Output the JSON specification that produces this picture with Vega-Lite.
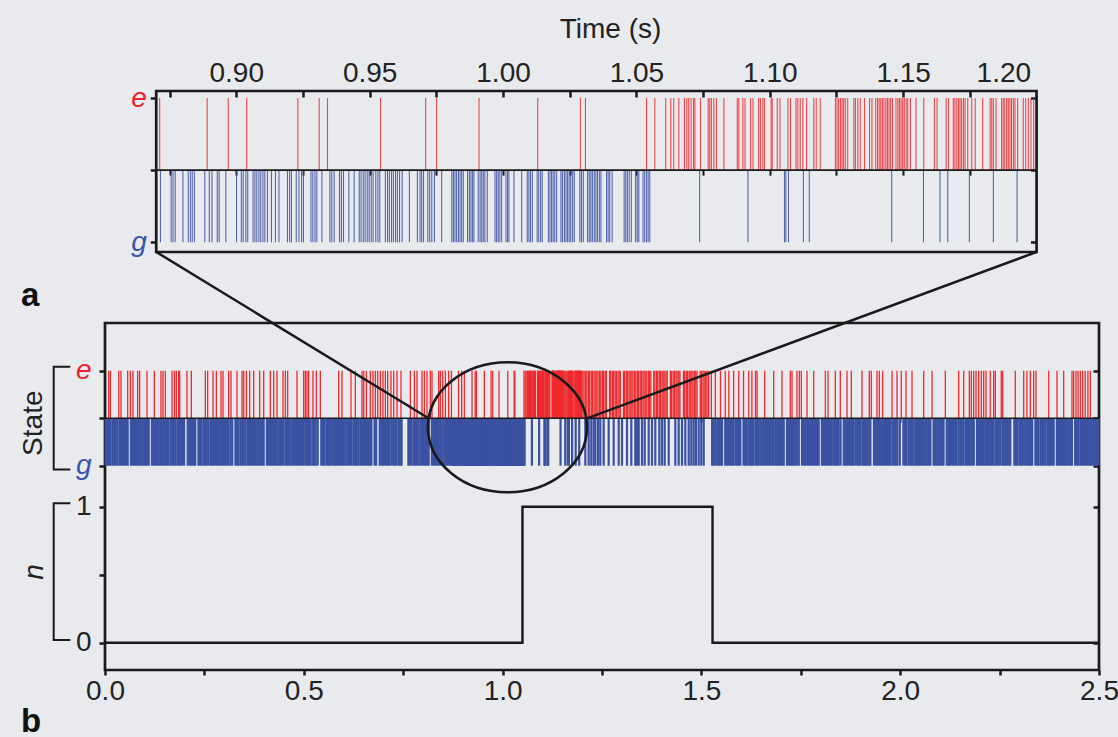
{
  "$schema": "https://vega.github.io/schema/vega-lite/v6.json",
  "background": "#e9eaee",
  "padding": {"left": 18, "top": 15, "right": 4, "bottom": 4},
  "autosize": {"type": "pad"},
  "config": {
    "view": {"stroke": null},
    "font": "Liberation Sans",
    "axis": {"labelFont": "Liberation Sans", "titleFont": "Liberation Sans", "labelFontSize": 28, "titleFontSize": 28, "labelColor": "#222222", "titleColor": "#222222", "tickColor": "#1a1a1a", "domainColor": "#1a1a1a", "labelFlush": false, "labelOverlap": false, "grid": false, "titleFontWeight": "normal"},
    "text": {"font": "Liberation Sans"}
  },
  "datasets": {
    "step": [{"t": 0, "n": 0}, {"t": 1.05, "n": 1}, {"t": 1.528, "n": 0}, {"t": 2.5, "n": 0}],
    "e": [0.0092,0.0134,0.0344,0.0402,0.057,0.0637,0.0704,0.0822,0.0872,0.1056,0.1241,0.1408,0.1459,0.1517,0.1685,0.1744,0.1794,0.1853,0.1878,0.2062,0.2171,0.2523,0.2582,0.2716,0.28,0.2918,0.2968,0.311,0.3169,0.332,0.3446,0.3488,0.3555,0.3639,0.3739,0.389,0.3991,0.4158,0.4242,0.4326,0.4477,0.4536,0.4594,0.4829,0.4997,0.5039,0.508,0.5122,0.5231,0.5315,0.5416,0.5877,0.5961,0.6187,0.6296,0.6464,0.6506,0.6573,0.6673,0.674,0.6799,0.6858,0.6925,0.6992,0.7051,0.7109,0.7193,0.726,0.7344,0.7445,0.768,0.778,0.7847,0.7973,0.8032,0.8099,0.8182,0.8224,0.8392,0.8434,0.8494,0.8561,0.8644,
      0.8713,0.8891,0.897,0.9039,0.9231,0.9311,0.9342,0.9541,0.971,0.9751,0.991,1.013,1.029,1.0309,1.0538,1.0569,1.061,1.0629,1.064,1.0659,1.068,1.0689,1.0696,1.0705,1.0714,1.0719,1.074,1.0769,1.0775,1.0781,1.079,1.08,1.0828,1.0878,1.0884,1.0899,1.0907,1.0928,1.0937,1.0958,1.0965,1.0974,1.098,1.1005,1.1009,1.1028,1.1038,1.1068,1.1078,1.1098,1.1105,1.1114,1.1124,1.1138,1.1165,1.1174,1.1189,1.1246,1.1252,1.1258,1.1265,1.1271,1.1277,1.1283,1.1292,1.1315,1.1321,1.133,1.1339,1.1355,1.1374,1.1383,1.1397,1.1404,1.141,1.1416,1.1422,1.1428,1.1435,1.1441,1.1447,1.1453,1.146,1.1473,1.148,1.1486,1.1492,1.1498,1.1504,1.1511,1.1517,1.1527,1.1548,1.1577,1.1617,1.1627,1.1661,1.167,1.1688,1.1694,1.1701,1.1707,1.1713,1.1719,1.1726,1.1732,1.1742,1.1757,1.177,1.1798,1.1826,1.1832,1.1838,1.1848,1.1869,1.1875,1.1881,1.1888,1.1894,1.19,1.1906,1.1913,1.1919,1.1929,1.195,1.1959,1.1969,1.1979,1.1989,
      1.202,1.205,1.209,1.212,1.216,1.219,1.223,1.226,1.23,1.233,1.237,1.24,1.244,1.247,1.251,1.254,1.258,1.261,1.269,1.272,1.276,1.279,1.283,1.286,1.29,1.293,1.296,1.304,1.307,1.311,1.314,1.318,1.321,1.325,1.328,1.332,1.335,1.339,1.342,1.346,1.349,1.353,1.356,1.36,1.363,1.367,1.37,1.373,1.38,1.383,1.387,1.39,1.394,1.397,1.401,1.404,1.408,1.411,1.414,1.422,1.425,1.429,1.432,1.436,1.439,1.443,1.446,1.455,1.458,1.462,1.465,1.469,1.472,1.476,1.479,1.483,1.486,1.489,1.497,1.5,1.504,1.507,1.511,1.514,1.518,
      1.525,1.535,1.548,1.56,1.569,1.581,1.594,1.606,1.619,1.627,1.636,1.64,1.6591,1.6818,1.7027,1.7236,1.7279,1.7404,1.7463,1.7513,1.7656,1.7824,1.8117,1.8184,1.8368,1.8494,1.8662,1.8771,1.9039,1.9223,1.9273,1.9416,1.9475,1.9559,1.9794,1.992,2.0028,2.0146,2.0297,2.0591,2.08,2.1135,2.1471,2.1597,2.1739,2.1789,2.1848,2.1907,2.1974,2.204,2.21,2.2158,2.2266,2.2351,2.2392,2.2543,2.2578,2.2895,2.3106,2.3189,2.3273,2.3357,2.3415,2.3735,2.3944,2.4112,2.4321,2.4363,2.4421,2.4472,2.453,2.4588,2.4653,2.4721,2.4781],
    "g": [0.002,0.006,0.01,0.014,0.019,0.023,0.027,0.031,0.036,0.04,0.044,0.048,0.053,0.057,0.065,0.069,0.073,0.078,0.082,0.086,0.09,0.095,0.099,0.103,0.107,0.11,0.118,0.122,0.126,0.131,0.135,0.139,0.143,0.148,0.152,0.156,0.16,0.165,0.169,0.173,0.177,0.182,0.186,0.19,0.194,0.199,0.208,0.212,0.216,0.22,0.224,0.227,0.235,0.239,0.243,0.248,0.252,0.256,0.26,0.265,0.269,0.273,0.277,0.282,0.286,0.29,0.294,0.299,0.303,0.307,0.311,0.316,0.32,0.328,0.332,0.336,0.341,0.345,0.349,0.353,0.358,0.362,0.366,0.37,0.375,0.379,0.383,0.387,0.392,0.396,0.399,0.407,0.411,0.415,0.42,0.424,0.428,0.432,0.437,0.441,0.445,0.449,0.454,0.458,0.462,0.466,0.471,0.475,0.479,0.483,0.488,0.492,0.496,0.5,0.505,0.509,0.513,0.517,0.522,0.526,0.53,0.535,0.544,0.548,0.552,0.557,0.561,0.565,0.569,0.574,0.578,0.582,0.586,0.591,0.595,0.599,0.603,0.608,0.612,0.616,0.62,0.625,0.629,0.633,0.637,0.642,0.646,0.65,0.654,0.659,0.663,0.667,0.67,0.678,0.682,0.691,0.695,0.699,0.704,0.708,0.712,0.716,0.721,0.725,0.729,0.733,0.738,0.742,0.746,0.763,0.767,0.771,0.776,0.78,0.784,0.788,0.793,0.797,0.801,0.805,0.81,0.814,0.822,0.826,0.83,0.835,0.839,0.843,0.847,0.852,0.856,0.86,0.864,0.868,
      0.8716,0.8756,0.8763,0.8771,0.88,0.882,0.8828,0.8835,0.8843,0.8882,0.8899,0.8909,0.8929,0.8936,0.8961,0.9001,0.9019,0.9026,0.9036,0.9043,0.9063,0.907,0.9077,0.9085,0.9092,0.91,0.9107,0.9117,0.9132,0.9147,0.916,0.9192,0.92,0.9207,0.9225,0.9235,0.9245,0.9252,0.928,0.9287,0.9295,0.9302,0.9321,0.9351,0.9358,0.9367,0.9387,0.9394,0.9402,0.9422,0.9442,0.9461,0.9468,0.9476,0.9483,0.9491,0.9498,0.9506,0.9513,0.9523,0.9531,0.9538,0.9559,0.9567,0.9574,0.9582,0.9589,0.9597,0.9604,0.9612,0.9622,0.9649,0.9679,0.9689,0.9695,0.9702,0.9718,0.9725,0.9733,0.9743,0.977,0.9808,0.9814,0.982,0.9826,0.9833,0.9839,0.9845,0.9851,0.9867,0.9874,0.988,0.9886,0.9891,0.9907,0.9914,0.992,0.9926,0.9932,0.9941,0.997,0.9976,0.9982,0.9988,0.9995,1.0011,1.0017,1.0022,1.0041,1.007,1.0091,1.0097,1.0103,1.011,1.0128,1.0134,1.0141,1.0147,1.017,1.0176,1.0182,1.0188,1.0194,1.0201,1.0217,1.0223,1.023,1.0236,1.0242,1.0248,1.0254,1.0261,1.0267,1.0288,1.0294,1.0301,1.0317,1.0323,1.0329,1.0335,1.0342,1.0348,1.0354,1.0361,1.0367,1.0388,1.0394,1.04,1.0409,1.0454,1.046,1.0466,1.0473,1.0481,1.0497,1.0503,1.0509,1.0525,1.0531,1.0538,1.0544,1.055,1.0737,1.0918,1.1055,1.106,1.107,1.1126,1.1148,1.1457,1.1576,1.1638,1.1667,1.1748,1.1838,1.1927,
      1.208,1.2165,1.2231,1.2291,1.2332,1.2399,1.2457,1.2542,1.2668,1.2794,1.292,1.3003,1.3129,1.3237,1.3338,1.338,1.3423,1.3506,1.3574,1.3674,1.3758,1.3841,1.3942,1.4009,1.4077,1.4178,1.4344,1.4429,1.4512,1.4595,1.468,1.4746,1.4806,1.4864,1.4932,1.4997,1.5058,
      1.527,1.531,1.535,1.54,1.544,1.548,1.552,1.56,1.564,1.569,1.573,1.577,1.581,1.586,1.59,1.594,1.598,1.606,1.61,1.614,1.619,1.623,1.627,1.631,1.636,1.64,1.644,1.648,1.653,1.657,1.661,1.665,1.67,1.674,1.678,1.682,1.687,1.691,1.695,1.699,1.703,1.707,1.715,1.719,1.723,1.728,1.732,1.736,1.74,1.745,1.753,1.757,1.761,1.766,1.77,1.774,1.778,1.783,1.787,1.791,1.795,1.803,1.807,1.811,1.816,1.82,1.824,1.828,1.833,1.837,1.841,1.845,1.85,1.858,1.862,1.866,1.871,1.875,1.879,1.883,1.888,1.892,1.896,1.9,1.905,1.909,1.913,1.917,1.922,1.925,1.934,1.938,1.942,1.947,1.951,1.955,1.959,1.964,1.968,1.972,1.976,1.981,1.985,1.989,1.993,1.999,2.008,2.012,2.016,2.021,2.025,2.029,2.033,2.038,2.042,2.046,2.05,2.055,2.059,2.063,2.067,2.072,2.076,2.084,2.088,2.092,2.097,2.101,2.105,2.109,2.117,2.121,2.125,2.13,2.134,2.138,2.142,2.147,2.151,2.155,2.159,2.164,2.168,2.172,2.176,2.181,2.185,2.193,2.197,2.201,2.206,2.21,2.214,2.218,2.223,2.227,2.231,2.235,2.24,2.244,2.248,2.252,2.257,2.261,2.265,2.269,2.274,2.277,2.287,2.291,2.295,2.3,2.304,2.308,2.312,2.317,2.321,2.325,2.329,2.332,2.34,2.344,2.348,2.353,2.357,2.361,2.365,2.37,2.374,2.378,2.382,2.386,2.394,2.398,2.402,2.407,2.411,2.415,2.419,2.424,2.428,2.432,2.44,2.444,2.448,2.453,2.457,2.461,2.465,2.47,2.474,2.478,2.482,2.487,2.491,2.495,2.499]
  },
  "spacing": 71,
  "bounds": "flush",
  "vconcat": [
    {
      "width": 994,
      "height": 161,
      "view": {"stroke": null},
      "layer": [
        {
          "data": {"name": "e"},
          "transform": [{"filter": {"field": "data", "range": [0.87, 1.2]}}],
          "mark": {"type": "rule", "color": "#ee2a2e", "strokeWidth": 1.1, "opacity": 0.85},
          "encoding": {
            "x": {"field": "data", "type": "quantitative", "scale": {"domain": [0.8508, 1.2234], "nice": false, "zero": false},
              "axis": {"orient": "top", "values": [0.9, 0.95, 1, 1.05, 1.1, 1.15, 1.2], "format": ".2f", "ticks": false, "tickSize": 0, "domain": false, "labelPadding": 4, "title": "Time (s)", "titlePadding": 16, "titleX": 505,
                "labelAlign": {"condition": {"test": "datum.value == 1.2", "value": "right"}, "value": "center"},
                "labelOffset": {"condition": {"test": "datum.value == 1.2", "value": -6}, "value": 0}}},
            "y": {"datum": "e", "type": "nominal", "scale": {"type": "point", "domain": ["e", "m", "g"], "range": [7, 151.3], "padding": 0},
              "axis": {"orient": "left", "offset": -51.3, "title": null, "domain": false, "tickSize": 6, "tickWidth": 2.5, "labelPadding": 4, "labelFontStyle": "italic", "labelExpr": "datum.value == 'm' ? '' : datum.value",
                "labelColor": {"condition": {"test": "datum.value == 'e'", "value": "#e8232b"}, "value": "#3a55ad"}}},
            "y2": {"datum": "m"}
          }
        },
        {
          "data": {"name": "g"},
          "transform": [{"filter": {"field": "data", "range": [0.87, 1.2]}}],
          "mark": {"type": "rule", "color": "#3b51a2", "strokeWidth": 1.1, "opacity": 0.85},
          "encoding": {
            "x": {"field": "data", "type": "quantitative",
              "axis": {"orient": "bottom", "offset": -161, "values": [0.875, 0.9, 0.925, 0.95, 0.975, 1.0, 1.025, 1.05, 1.075, 1.1, 1.125, 1.15, 1.175], "labels": false, "domain": false, "tickSize": 6, "tickWidth": 2.5, "title": null}},
            "y": {"datum": "m", "type": "nominal",
              "axis": {"orient": "left", "offset": -931.5, "labels": false, "domain": false, "tickSize": 6, "tickWidth": 2.5, "title": null}},
            "y2": {"datum": "g"}
          }
        },
        {
          "data": {"values": [{}]},
          "mark": {"type": "rule", "color": "#1a1a1a", "strokeWidth": 1.6},
          "encoding": {
            "x": {"datum": 0.87, "type": "quantitative",
              "axis": {"orient": "bottom", "offset": -81.85, "values": [0.875, 0.9, 0.925, 0.95, 0.975, 1.0, 1.025, 1.05, 1.075, 1.1, 1.125, 1.15, 1.175], "labels": false, "domain": false, "tickSize": 5, "tickWidth": 2, "title": null}},
            "x2": {"datum": 1.2},
            "y": {"datum": "m", "type": "nominal", "axis": null}
          }
        },
        {
          "data": {"values": [{}]},
          "mark": {"type": "rect", "filled": false, "stroke": "#1a1a1a", "strokeWidth": 2.7},
          "encoding": {
            "x": {"datum": 0.87, "type": "quantitative", "axis": null},
            "x2": {"datum": 1.2}
          }
        }
      ],
      "resolve": {"axis": {"x": "independent", "y": "independent"}}
    },
    {
      "width": 994,
      "height": 347,
      "view": {"stroke": "#1a1a1a", "strokeWidth": 2.7},
      "layer": [
        {
          "layer": [
            {
              "data": {"name": "e"},
              "mark": {"type": "rule", "color": "#ee2a2e", "strokeWidth": 1.3},
              "encoding": {
                "x": {"field": "data", "type": "quantitative", "scale": {"domain": [0, 2.5], "nice": false, "zero": false},
                  "axis": {"orient": "bottom", "offset": -251.8, "values": [0.5, 1, 1.5, 2], "labels": false, "domain": false, "tickSize": 4, "tickWidth": 2, "title": null}},
                "y": {"datum": "e", "type": "nominal", "scale": {"type": "point", "domain": ["e", "m", "g"], "range": [47.7, 142.7], "padding": 0},
                  "axis": {"orient": "left", "title": null, "domain": false, "tickSize": 6, "tickWidth": 2.5, "labelPadding": 8, "labelFontStyle": "italic", "labelExpr": "datum.value == 'm' ? '' : datum.value",
                    "labelColor": {"condition": {"test": "datum.value == 'e'", "value": "#e8232b"}, "value": "#3a55ad"}}},
                "y2": {"datum": "m"}
              }
            },
            {
              "data": {"name": "g"},
              "mark": {"type": "rule", "color": "#3b51a2", "strokeWidth": 2.2},
              "encoding": {
                "x": {"field": "data", "type": "quantitative",
                  "axis": {"orient": "bottom", "values": [0.25, 0.75, 1.25, 1.75, 2.25], "labels": false, "domain": false, "tickSize": 5, "tickWidth": 2.5, "title": null}},
                "y": {"datum": "m", "type": "nominal",
                  "axis": {"orient": "left", "offset": -994, "labels": false, "domain": false, "tickSize": 6, "tickWidth": 2.5, "title": null}},
                "y2": {"datum": "g"}
              }
            },
            {
              "data": {"values": [{}]},
              "mark": {"type": "rule", "color": "#1a1a1a", "strokeWidth": 1.6},
              "encoding": {"y": {"datum": "m", "type": "nominal", "axis": null}}
            },
            {
              "data": {"values": [{}]},
              "mark": {"type": "point", "shape": "M0.1617,-1L-0.1617,-1L-0.1617,1L0.1617,1", "size": 10547, "filled": false, "stroke": "#1a1a1a", "strokeWidth": 2, "opacity": 1},
              "encoding": {
                "x": {"datum": -0.10815, "type": "quantitative", "axis": null},
                "y": {"datum": "m", "type": "nominal", "axis": null}
              }
            },
            {
              "data": {"values": [{}]},
              "mark": {"type": "text", "text": "State", "angle": 270, "fontSize": 28, "align": "center", "baseline": "middle", "dx": -5, "color": "#222222"},
              "encoding": {
                "x": {"datum": -0.1793, "type": "quantitative", "axis": null},
                "y": {"datum": "m", "type": "nominal", "axis": null}
              }
            }
          ],
          "resolve": {"axis": {"x": "independent", "y": "independent"}}
        },
        {
          "layer": [
            {
              "data": {"name": "step"},
              "mark": {"type": "line", "interpolate": "step-after", "color": "#1a1a1a", "strokeWidth": 2.4},
              "encoding": {
                "x": {"field": "t", "type": "quantitative", "scale": {"domain": [0, 2.5], "nice": false, "zero": false},
                  "axis": {"orient": "bottom", "values": [0, 0.5, 1, 1.5, 2, 2.5], "format": ".1f", "tickSize": 5, "tickWidth": 2.5, "domain": false, "labelPadding": 2, "title": null}},
                "y": {"field": "n", "type": "quantitative", "scale": {"domain": [-0.2007, 2.3508], "nice": false, "zero": false},
                  "axis": {"orient": "left", "values": [0, 0.5, 1], "labelExpr": "datum.value == 0 ? '0' : datum.value == 1 ? '1' : ''", "tickSize": 6, "tickWidth": 2.5, "domain": false, "labelPadding": 8, "title": null}}
              }
            },
            {
              "data": {"values": [{}]},
              "mark": {"type": "rule", "color": "#1a1a1a", "strokeWidth": 2.5},
              "encoding": {
                "x": {"datum": 0.129, "type": "quantitative", "axis": null},
                "x2": {"datum": 0.8139},
                "y": {"datum": 2.8728, "type": "quantitative",
                  "axis": {"orient": "left", "offset": -994, "values": [0, 1], "labels": false, "domain": false, "tickSize": 6, "tickWidth": 2.5, "title": null}},
                "y2": {"datum": 1.65}
              }
            },
            {
              "data": {"values": [{}]},
              "mark": {"type": "rule", "color": "#1a1a1a", "strokeWidth": 2.5},
              "encoding": {
                "x": {"datum": 2.3428, "type": "quantitative", "axis": null},
                "x2": {"datum": 1.2123},
                "y": {"datum": 2.8728, "type": "quantitative", "axis": null},
                "y2": {"datum": 1.65}
              }
            },
            {
              "data": {"values": [{}]},
              "mark": {"type": "point", "shape": "M1,0C1,0.4516 0.5523,0.8176 0,0.8176C-0.5523,0.8176 -1,0.4516 -1,0C-1,-0.4516 -0.5523,-0.8176 0,-0.8176C0.5523,-0.8176 1,-0.4516 1,0Z", "size": 25281, "filled": false, "stroke": "#1a1a1a", "strokeWidth": 2.6, "opacity": 1},
              "encoding": {
                "x": {"datum": 1.0123, "type": "quantitative", "axis": null},
                "y": {"datum": 1.5838, "type": "quantitative", "axis": null}
              }
            },
            {
              "data": {"values": [{}]},
              "mark": {"type": "point", "shape": "M0.1214,-1L-0.1214,-1L-0.1214,1L0.1214,1", "size": 18687, "filled": false, "stroke": "#1a1a1a", "strokeWidth": 2, "opacity": 1},
              "encoding": {
                "x": {"datum": -0.10815, "type": "quantitative", "axis": null},
                "y": {"datum": 0.5225, "type": "quantitative", "axis": null}
              }
            },
            {
              "data": {"values": [{}]},
              "mark": {"type": "text", "text": "n", "angle": 270, "fontSize": 28, "fontStyle": "italic", "align": "center", "baseline": "middle", "color": "#222222"},
              "encoding": {
                "x": {"datum": -0.1761, "type": "quantitative", "axis": null},
                "y": {"datum": 0.52, "type": "quantitative", "axis": null}
              }
            },
            {
              "data": {"values": [{}]},
              "mark": {"type": "text", "text": "a", "fontSize": 33, "fontWeight": "bold", "align": "left", "baseline": "alphabetic", "color": "#111111"},
              "encoding": {
                "x": {"datum": -0.2113, "type": "quantitative", "axis": null},
                "y": {"datum": 2.4757, "type": "quantitative", "axis": null}
              }
            },
            {
              "data": {"values": [{}]},
              "mark": {"type": "text", "text": "b", "fontSize": 33, "fontWeight": "bold", "align": "left", "baseline": "alphabetic", "color": "#111111"},
              "encoding": {
                "x": {"datum": -0.2113, "type": "quantitative", "axis": null},
                "y": {"datum": -0.6566, "type": "quantitative", "axis": null}
              }
            }
          ],
          "resolve": {"axis": {"x": "independent", "y": "independent"}}
        }
      ],
      "resolve": {"scale": {"y": "independent"}, "axis": {"x": "independent", "y": "independent"}}
    }
  ]
}
